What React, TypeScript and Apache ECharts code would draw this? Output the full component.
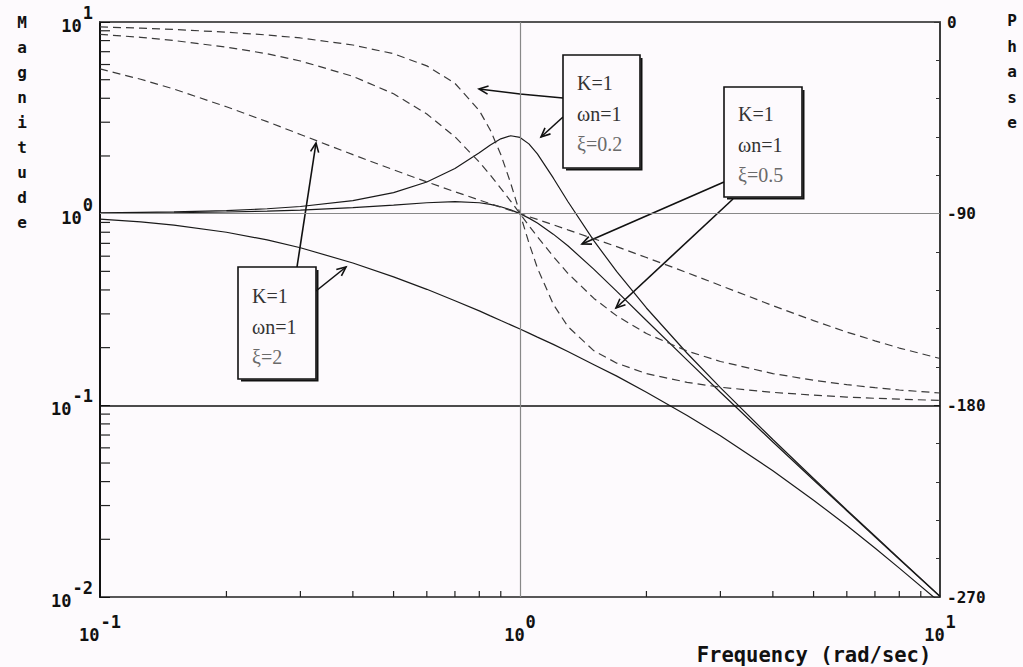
import React, { useEffect, useRef } from "react";
import * as echarts from "echarts";

// Frequencies (rad/sec) at which values were read
const freq = [0.1, 0.125, 0.15, 0.2, 0.25, 0.3, 0.4, 0.5, 0.6, 0.7, 0.8, 0.85, 0.9, 0.95, 1.0, 1.05, 1.1, 1.2, 1.3, 1.5, 1.7, 2, 2.5, 3, 4, 5, 6, 7, 8, 10];

// Magnitude (solid) for xi = 0.2, 0.5, 2
const magXi02 = [1.009, 1.015, 1.021, 1.038, 1.061, 1.09, 1.17, 1.288, 1.463, 1.719, 2.076, 2.279, 2.457, 2.549, 2.5, 2.313, 2.051, 1.536, 1.157, 0.721, 0.498, 0.322, 0.187, 0.1236, 0.0663, 0.0415, 0.0285, 0.0208, 0.01585, 0.01009];
const magXi05 = [1.005, 1.008, 1.011, 1.02, 1.031, 1.044, 1.075, 1.109, 1.14, 1.155, 1.14, 1.118, 1.087, 1.047, 1.0, 0.948, 0.893, 0.782, 0.68, 0.512, 0.393, 0.277, 0.172, 0.117, 0.0644, 0.0408, 0.0282, 0.0206, 0.01575, 0.01005];
const magXi2 = [0.937, 0.906, 0.872, 0.8, 0.73, 0.664, 0.553, 0.468, 0.403, 0.351, 0.311, 0.293, 0.277, 0.263, 0.25, 0.238, 0.227, 0.208, 0.191, 0.163, 0.142, 0.117, 0.0885, 0.0693, 0.0456, 0.032, 0.0236, 0.018, 0.01415, 0.00937];

// Phase (dashed, degrees) for xi = 0.2, 0.5, 2
const phXi02 = [-2.3, -2.9, -3.5, -4.8, -6.1, -7.5, -10.8, -14.9, -20.6, -28.8, -41.6, -50.8, -62.2, -75.6, -90, -103.7, -115.5, -132.5, -143.0, -154.4, -160.2, -165.1, -169.2, -171.5, -173.9, -175.2, -176.1, -176.7, -177.1, -177.7];
const phXi05 = [-5.8, -7.2, -8.7, -11.8, -14.9, -18.3, -25.5, -33.7, -43.2, -53.9, -65.8, -71.9, -78.1, -84.1, -90, -95.6, -100.8, -110.1, -118.0, -129.8, -138.0, -146.3, -154.5, -159.4, -165.1, -168.2, -170.3, -171.7, -172.8, -174.2];
const phXi2 = [-22.0, -26.9, -31.5, -39.8, -46.8, -52.8, -62.3, -69.4, -75.1, -79.7, -83.6, -85.3, -87.0, -88.5, -90, -91.4, -92.7, -95.2, -97.6, -101.8, -105.5, -110.6, -117.7, -123.7, -133.2, -140.2, -145.6, -149.7, -153.1, -158.0];

// Axis ranges and minor ticks
const xRange = [0.1, 10];
const magRange = [0.01, 10];
const phaseRange = [-270, 0];
const phaseStep = 90;
const xMinorTicks = [0.2, 0.3, 0.4, 0.5, 0.6, 0.7, 0.8, 0.9, 2, 3, 4, 5, 6, 7, 8, 9];
const yMinorTicks = [0.02, 0.03, 0.04, 0.05, 0.06, 0.07, 0.08, 0.09, 0.2, 0.3, 0.4, 0.5, 0.6, 0.7, 0.8, 0.9, 2, 3, 4, 5, 6, 7, 8, 9];

// Annotation texts
const boxTexts = [
  ["K=1", "\u03c9n=1", "\u03be=0.2"],
  ["K=1", "\u03c9n=1", "\u03be=0.5"],
  ["K=1", "\u03c9n=1", "\u03be=2"],
];

const BG = "#fdfafd";
const MONO = '"DejaVu Sans Mono", monospace';
const SERIF = '"Liberation Serif", serif';

const boxes = [
  { x: 563, y: 55, w: 77, h: 113, tx: 577, ty: 83 },
  { x: 724, y: 87, w: 78, h: 110, tx: 738, ty: 114 },
  { x: 238, y: 267, w: 78, h: 112, tx: 252, ty: 296 },
];
const arrows: number[][][] = [
  [[563, 98], [520, 94], [479, 89]],
  [[563, 117], [541, 137]],
  [[724, 182], [582, 244]],
  [[733, 199], [616, 308]],
  [[297, 267], [316, 143]],
  [[316, 291], [346, 267]],
];

function arrowHead(tip: number[], from: number[]) {
  const dx = tip[0] - from[0];
  const dy = tip[1] - from[1];
  const len = Math.hypot(dx, dy);
  const ux = dx / len;
  const uy = dy / len;
  const L = 10;
  const a = 0.42;
  const c = Math.cos(a);
  const s = Math.sin(a);
  const p1 = [tip[0] - L * (ux * c - uy * s), tip[1] - L * (uy * c + ux * s)];
  const p2 = [tip[0] - L * (ux * c + uy * s), tip[1] - L * (uy * c - ux * s)];
  return [p1, tip, p2];
}

function supLabel(v: number) {
  const e = Math.round(Math.log10(v));
  return `{b|10}{s|${e}}`;
}

const richSup = {
  b: { fontFamily: MONO, fontWeight: "bold", fontSize: 17, color: "#111", lineHeight: 20 },
  s: { fontFamily: MONO, fontWeight: "bold", fontSize: 17, color: "#111", lineHeight: 20, padding: [0, 0, 26, 1] },
};

export default function App() {
  const ref = useRef<HTMLDivElement>(null);
  useEffect(() => {
    if (!ref.current) return;
    const chart = echarts.init(ref.current, undefined, { renderer: "svg" });

    const pairs = (ys: number[]) => freq.map((f, i) => [f, ys[i]]);
    const magStyle = { color: "#1a1a1a", width: 1.2, type: "solid" as const };
    const phStyle = { color: "#3a3a3a", width: 1.2, type: [8, 5] as any };

    const graphic: any[] = [];
    // axis names
    graphic.push({
      type: "text", x: 22, y: 10,
      style: { text: "Magnitude".split("").join("\n"), fontFamily: MONO, fontWeight: "bold", fontSize: 16, lineHeight: 25, fill: "#111", align: "center", verticalAlign: "top" },
    });
    graphic.push({
      type: "text", x: 1012, y: 8,
      style: { text: "Phase".split("").join("\n"), fontFamily: MONO, fontWeight: "bold", fontSize: 16, lineHeight: 25.5, fill: "#111", align: "center", verticalAlign: "top" },
    });
    graphic.push({
      type: "text", x: 814, y: 655,
      style: { text: "Frequency (rad/sec)", fontFamily: MONO, fontWeight: "bold", fontSize: 20.5, fill: "#111", align: "center", verticalAlign: "middle" },
    });
    // arrows
    arrows.forEach((pts) => {
      graphic.push({ type: "polyline", shape: { points: pts }, style: { stroke: "#111", lineWidth: 1.6, fill: null } });
      const tip = pts[pts.length - 1];
      const from = pts[pts.length - 2];
      graphic.push({ type: "polyline", shape: { points: arrowHead(tip, from) }, style: { stroke: "#111", lineWidth: 1.6, fill: null } });
    });
    // boxes
    boxes.forEach((b, i) => {
      graphic.push({ type: "rect", shape: { x: b.x, y: b.y, width: b.w, height: b.h }, style: { fill: BG, stroke: "#111", lineWidth: 1.6 } });
      graphic.push({ type: "polyline", shape: { points: [[b.x + b.w + 1.5, b.y + 3], [b.x + b.w + 1.5, b.y + b.h + 1.5], [b.x + 3, b.y + b.h + 1.5]] }, style: { stroke: "#111", lineWidth: 2, fill: null } });
      boxTexts[i].forEach((t, j) => {
        graphic.push({
          type: "text", x: b.tx, y: b.ty + j * 30.5,
          style: { text: t, fontFamily: SERIF, fontSize: 20, fill: j === 2 ? "#6a6a6a" : "#333", align: "left", verticalAlign: "middle" },
        });
      });
    });

    chart.setOption({
      animation: false,
      backgroundColor: BG,
      grid: { left: 100, right: 83, top: 22, bottom: 70, show: true, borderColor: "#222", borderWidth: 1.5, outerBoundsMode: "none" } as any,
      xAxis: {
        type: "log", logBase: 10, min: xRange[0], max: xRange[1],
        axisLine: { lineStyle: { color: "#555", width: 1.5 } },
        axisTick: { show: false },
        splitLine: { show: false },
        axisLabel: { formatter: supLabel, margin: 28, rich: richSup as any },
      },
      yAxis: [
        {
          type: "log", logBase: 10, min: magRange[0], max: magRange[1], position: "left",
          axisLine: { show: true, lineStyle: { color: "#111", width: 2 } },
          axisTick: { show: true, inside: true, length: 10, lineStyle: { color: "#111" } },
          splitLine: { show: false },
          axisLabel: { formatter: supLabel, margin: 7, padding: [8, 0, 0, 0], rich: richSup as any },
        },
        {
          type: "value", min: phaseRange[0], max: phaseRange[1], interval: phaseStep, position: "right",
          axisLine: { show: true, lineStyle: { color: "#333", width: 1.5 } },
          axisTick: { show: true, inside: true, length: 6, lineStyle: { color: "#333" } },
          minorTick: { show: true, splitNumber: 5, length: 4, lineStyle: { color: "#333" } },
          splitLine: { show: false },
          axisLabel: { margin: 7, fontFamily: MONO, fontWeight: "bold", fontSize: 16, color: "#111", padding: [0, 0, 7, 0] },
        },
      ],
      series: [
        {
          type: "line", name: "mag02", data: pairs(magXi02), showSymbol: false, lineStyle: magStyle, yAxisIndex: 0,
          markLine: {
            silent: true, symbol: "none", label: { show: false },
            data: [
              { yAxis: 1, lineStyle: { color: "#888", width: 1.2, type: "solid" } },
              { yAxis: 0.1, lineStyle: { color: "#111", width: 1.5, type: "solid" } },
              { xAxis: 1, lineStyle: { color: "#888", width: 1.2, type: "solid" } },
            ],
          },
        },
        { type: "line", name: "mag05", data: pairs(magXi05), showSymbol: false, lineStyle: magStyle, yAxisIndex: 0 },
        { type: "line", name: "mag2", data: pairs(magXi2), showSymbol: false, lineStyle: magStyle, yAxisIndex: 0 },
        { type: "line", name: "ph02", data: pairs(phXi02), showSymbol: false, lineStyle: phStyle, yAxisIndex: 1 },
        { type: "line", name: "ph05", data: pairs(phXi05), showSymbol: false, lineStyle: phStyle, yAxisIndex: 1 },
        { type: "line", name: "ph2", data: pairs(phXi2), showSymbol: false, lineStyle: phStyle, yAxisIndex: 1 },
        {
          type: "custom", name: "xminor", silent: true, yAxisIndex: 0, clip: false, z: 5,
          data: xMinorTicks.map((v) => [v, magRange[0]]),
          renderItem: (_p: any, api: any) => {
            const p = api.coord([api.value(0), api.value(1)]);
            return { type: "line", shape: { x1: p[0], y1: p[1], x2: p[0], y2: p[1] - 6 }, style: { stroke: "#222", lineWidth: 1.2 } };
          },
        },
        {
          type: "custom", name: "yminor", silent: true, yAxisIndex: 0, clip: false, z: 5,
          data: yMinorTicks.map((v) => [xRange[0], v]),
          renderItem: (_p: any, api: any) => {
            const p = api.coord([api.value(0), api.value(1)]);
            return { type: "line", shape: { x1: p[0], y1: p[1], x2: p[0] + 10, y2: p[1] }, style: { stroke: "#222", lineWidth: 1.2 } };
          },
        },
      ],
      graphic,
    });
    return () => chart.dispose();
  }, []);
  return <div ref={ref} style={{ position: "fixed", left: 0, top: 0, width: 1023, height: 667 }} />;
}
